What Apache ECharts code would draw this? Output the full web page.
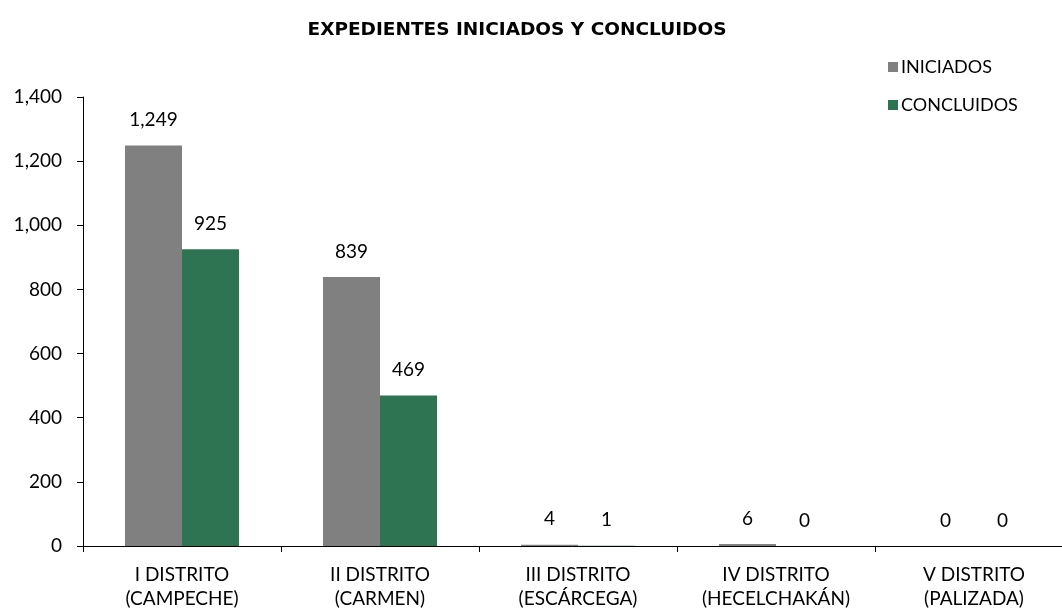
<!DOCTYPE html>
<html>
<head>
<meta charset="utf-8">
<script src="https://cdn.jsdelivr.net/npm/echarts@6/dist/echarts.min.js"></script>
<style>
  html, body { margin: 0; padding: 0; background: #fff; }
  #chart { width: 1062px; height: 612px; }
</style>
</head>
<body>
<div id="chart"></div>
<script>
// datos del gráfico
var distritos = ['I DISTRITO\n(CAMPECHE)', 'II DISTRITO\n(CARMEN)', 'III DISTRITO\n(ESCÁRCEGA)', 'IV DISTRITO\n(HECELCHAKÁN)', 'V DISTRITO\n(PALIZADA)'];
var iniciados = [1249, 839, 4, 6, 0];
var concluidos = [925, 469, 1, 0, 0];

var fuente = 'Lato, "Noto Sans", sans-serif';

var myChart = echarts.init(document.getElementById('chart'));
var option = {
  animation: false,
  title: {
    text: 'EXPEDIENTES INICIADOS Y CONCLUIDOS',
    left: 512,
    textAlign: 'center',
    top: 16,
    textStyle: { fontFamily: '"DejaVu Sans", sans-serif', fontSize: 18.5, fontWeight: 'bold', color: '#000' }
  },
  legend: {
    orient: 'vertical',
    left: 883,
    top: 53,
    itemWidth: 10,
    itemHeight: 10,
    itemGap: 20,
    icon: 'rect',
    textStyle: { fontFamily: fuente, fontSize: 18, color: '#000', padding: [0, 0, 0, -2] },
    data: ['INICIADOS', 'CONCLUIDOS']
  },
  grid: { left: 83, width: 990, top: 97, bottom: 66, containLabel: false, outerBoundsMode: 'none' },
  xAxis: {
    type: 'category',
    data: distritos,
    axisLine: { lineStyle: { color: '#000', width: 1 } },
    axisTick: { show: true, length: 6, lineStyle: { color: '#000' } },
    axisLabel: { fontFamily: fuente, fontSize: 19, color: '#000', lineHeight: 24, margin: 17 }
  },
  yAxis: {
    type: 'value',
    min: 0,
    max: 1400,
    interval: 200,
    axisLine: { show: true, lineStyle: { color: '#000', width: 1 } },
    axisTick: { show: true, length: 6, lineStyle: { color: '#000' } },
    splitLine: { show: false },
    axisLabel: {
      fontFamily: fuente, fontSize: 19, color: '#000', margin: 21,
      formatter: function (v) { return v.toLocaleString('en-US'); }
    }
  },
  series: [
    {
      name: 'INICIADOS',
      type: 'bar',
      data: iniciados,
      itemStyle: { color: '#808080' },
      barGap: '0%',
      barCategoryGap: '42.4%',
      label: {
        show: true, position: 'top', distance: 16,
        fontFamily: fuente, fontSize: 19, color: '#000',
        formatter: function (p) { return p.value.toLocaleString('en-US'); }
      }
    },
    {
      name: 'CONCLUIDOS',
      type: 'bar',
      data: concluidos,
      itemStyle: { color: '#2E7352' },
      label: {
        show: true, position: 'top', distance: 16,
        fontFamily: fuente, fontSize: 19, color: '#000',
        formatter: function (p) { return p.value.toLocaleString('en-US'); }
      }
    }
  ]
};
myChart.setOption(option);
</script>
</body>
</html>
